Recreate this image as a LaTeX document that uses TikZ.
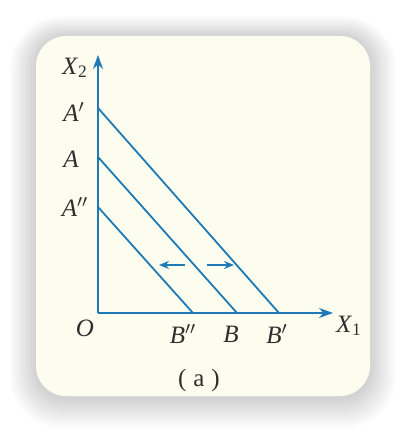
\documentclass[tikz,border=0pt]{standalone}
\usepackage{fontspec}
\setmainfont{Liberation Serif}
\usetikzlibrary{arrows.meta}
\definecolor{axisblue}{HTML}{1E7AB6}
\definecolor{cardcream}{HTML}{FDFDEF}
\definecolor{inkgray}{HTML}{2E2E2E}
\newcommand{\ital}[1]{\textit{#1}}

\begin{document}
\begin{tikzpicture}[x=0.5pt,y=-0.5pt,font=\fontsize{12.5}{14}\selectfont,
  ln/.style={axisblue,line width=0.9pt},
  ax/.style={ln,-{Stealth[length=7pt,width=5pt]}},
  move/.style={axisblue,line width=0.8pt,-{Stealth[length=5pt,width=4pt]}},
  lab/.style={text=inkgray,inner sep=0pt}]
  \useasboundingbox (0,0) rectangle (406,432);
  % soft shadow and card
  \foreach \s in {1,...,22}
    \fill[black,opacity=0.007,rounded corners=15pt+\s*0.5pt] (36-1.2*\s,36-0.9*\s) rectangle (370+1.2*\s,398+1.4*\s);
  \fill[cardcream,rounded corners=15pt] (36,36) rectangle (370,396);
  % axes
  \coordinate (O) at (98,313);
  \coordinate (xend) at (333,313);
  \coordinate (yend) at (98,55);
  \draw[ax] (O) -- (xend);
  \draw[ax] (O) -- (yend);
  % budget lines
  \coordinate (Ap) at (98,108);
  \coordinate (A) at (98,157);
  \coordinate (App) at (98,207);
  \coordinate (Bp) at (279,313);
  \coordinate (B) at (237,313);
  \coordinate (Bpp) at (193,313);
  \draw[ln] (Ap) -- (Bp);
  \draw[ln] (A) -- (B);
  \draw[ln] (App) -- (Bpp);
  % shifts
  \coordinate (lfrom) at (185,265);
  \coordinate (lto) at (159,265);
  \coordinate (rfrom) at (207,265);
  \coordinate (rto) at (234,265);
  \draw[move] (lfrom) -- (lto);
  \draw[move] (rfrom) -- (rto);
  % labels
  \node[lab] (x2lab) at (75,68) {\ital{X}\textsubscript{2}};
  \node[lab] (x1lab) at (349,326) {\ital{X}\textsubscript{1}};
  \node[lab] (aplab) at (74,112) {\ital{A}$'$};
  \node[lab] (alab) at (71,159) {\ital{A}};
  \node[lab] (applab) at (75,207) {\ital{A}$''$};
  \node[lab] (olab) at (85,328) {\ital{O}};
  \node[lab] (bpplab) at (183,334) {\ital{B}$''$};
  \node[lab] (blab) at (231,334) {\ital{B}};
  \node[lab] (bplab) at (277,334) {\ital{B}$'$};
  \node[lab] (cap) at (199,380) {(\;a\;)};
\end{tikzpicture}
\end{document}
